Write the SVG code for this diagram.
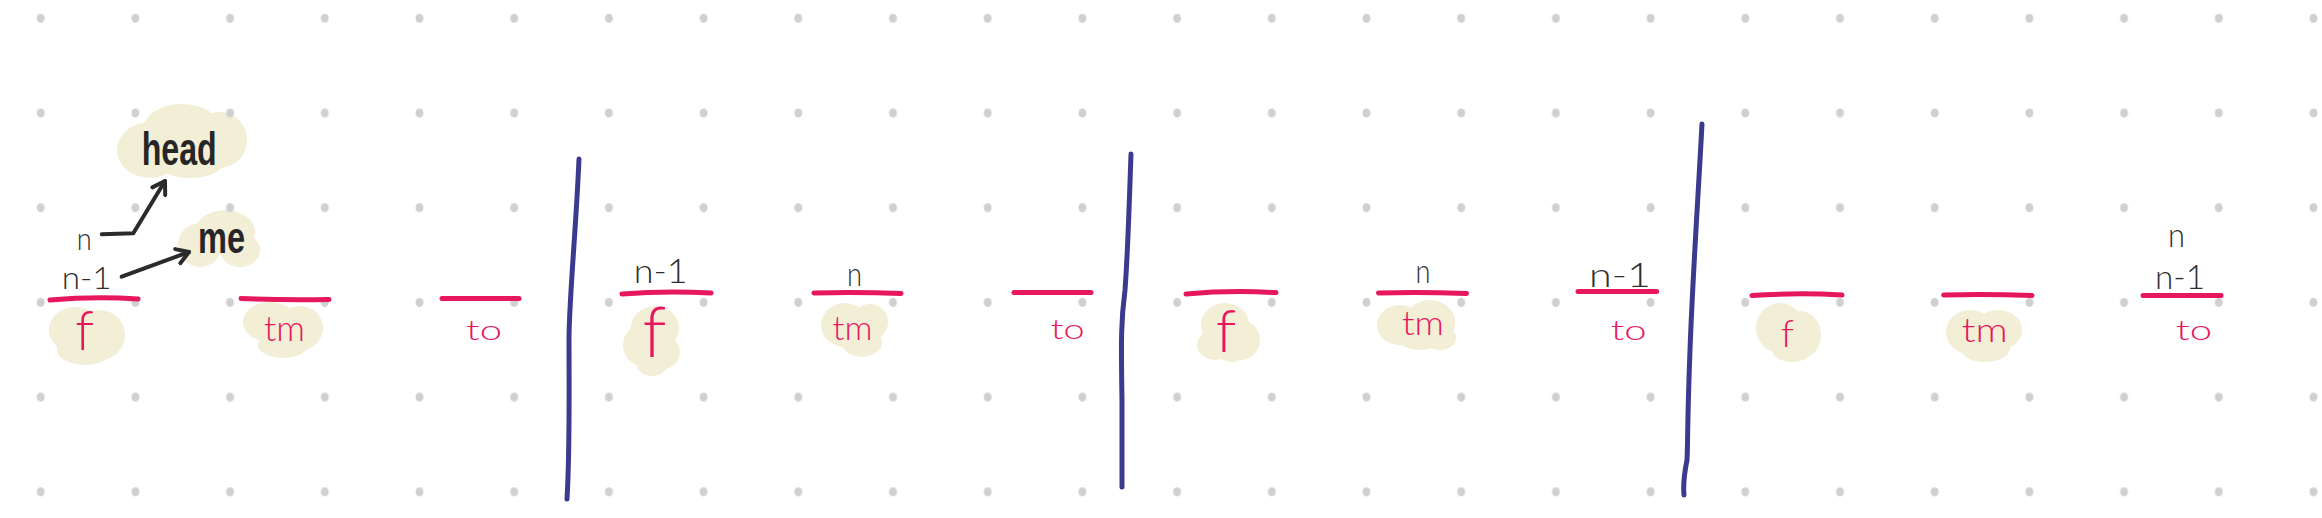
<svg xmlns="http://www.w3.org/2000/svg" width="2322" height="518" viewBox="0 0 2322 518">
<defs>
<pattern id="grid" x="-6.65" y="-29.05" width="94.7" height="94.7" patternUnits="userSpaceOnUse">
<ellipse cx="47.35" cy="47.35" rx="4" ry="4.6" fill="#d0d0d0"/>
</pattern>
<marker id="chev" viewBox="-14 -10 18 20" markerWidth="18" markerHeight="20" refX="0" refY="0" orient="auto" markerUnits="userSpaceOnUse">
<path d="M-12,-7.5 L0,0 L-12,7.5" fill="none" stroke="#2b2b2b" stroke-width="4" stroke-linecap="round" stroke-linejoin="round"/>
</marker>
<style>
.blob ellipse{fill:#f3eed6}
.red{fill:none;stroke:#e6175c;stroke-width:5;stroke-linecap:round}
.blue{fill:none;stroke:#3a3b8e;stroke-width:5;stroke-linecap:round}
.lbl{font-family:Lato,"Liberation Sans",Arial,sans-serif;font-weight:300;fill:#2e2e2e}
.big{font-family:"Liberation Sans",Arial,sans-serif;fill:#262626;font-weight:bold}
.rt{font-family:Lato,"Liberation Sans",Arial,sans-serif;font-weight:300;fill:#e6175c}
.conn{fill:none;stroke:#2b2b2b;stroke-width:4;stroke-linecap:round;stroke-linejoin:round}
</style>
</defs>
<rect width="2322" height="518" fill="#ffffff"/>
<g id="blobs">
<g class="blob" id="blob-head"><ellipse cx="150" cy="150" rx="33" ry="28"/><ellipse cx="182" cy="128" rx="38" ry="24"/><ellipse cx="220" cy="140" rx="27" ry="28"/><ellipse cx="190" cy="160" rx="35" ry="18"/></g>
<g class="blob" id="blob-me"><ellipse cx="200" cy="245" rx="22" ry="22"/><ellipse cx="225" cy="232" rx="30" ry="22"/><ellipse cx="240" cy="250" rx="20" ry="17"/></g>
<g class="blob"><ellipse cx="75" cy="330" rx="26" ry="23"/><ellipse cx="100" cy="335" rx="25" ry="25"/><ellipse cx="85" cy="350" rx="28" ry="15"/></g>
<g class="blob"><ellipse cx="270" cy="322" rx="27" ry="20"/><ellipse cx="300" cy="328" rx="23" ry="22"/><ellipse cx="283" cy="345" rx="25" ry="13"/></g>
<g class="blob"><ellipse cx="655" cy="328" rx="24" ry="22"/><ellipse cx="645" cy="345" rx="22" ry="22"/><ellipse cx="660" cy="352" rx="20" ry="18"/><ellipse cx="652" cy="365" rx="15" ry="11"/></g>
<g class="blob"><ellipse cx="845" cy="325" rx="24" ry="22"/><ellipse cx="870" cy="322" rx="18" ry="18"/><ellipse cx="862" cy="342" rx="20" ry="15"/></g>
<g class="blob"><ellipse cx="1225" cy="325" rx="24" ry="22"/><ellipse cx="1240" cy="340" rx="20" ry="20"/><ellipse cx="1215" cy="345" rx="18" ry="15"/><ellipse cx="1232" cy="352" rx="14" ry="10"/></g>
<g class="blob"><ellipse cx="1400" cy="325" rx="23" ry="20"/><ellipse cx="1430" cy="322" rx="25" ry="22"/><ellipse cx="1440" cy="338" rx="16" ry="12"/><ellipse cx="1420" cy="338" rx="22" ry="12"/></g>
<g class="blob"><ellipse cx="1780" cy="328" rx="24" ry="25"/><ellipse cx="1800" cy="335" rx="21" ry="24"/><ellipse cx="1792" cy="350" rx="20" ry="12"/></g>
<g class="blob"><ellipse cx="1970" cy="332" rx="24" ry="22"/><ellipse cx="1998" cy="330" rx="24" ry="20"/><ellipse cx="1985" cy="348" rx="25" ry="14"/></g>
</g>
<rect width="2322" height="518" fill="url(#grid)"/>
<g id="dividers">
<path class="blue" d="M579,159 C576,230 569,300 569,340 S570,450 567,499"/>
<path class="blue" d="M1131,154 C1129,210 1128,250 1125,290 C1121,320 1121,340 1122,400 L1122,487"/>
<path class="blue" d="M1702,124 C1698,200 1693,270 1690,350 S1688,440 1687,460 C1684,475 1683,485 1684,495"/>
</g>
<g id="node-head"><text class="big" x="141.7" y="165" font-size="46" textLength="75" lengthAdjust="spacingAndGlyphs">head</text></g>
<g id="node-me"><text class="big" x="198" y="253" font-size="44" textLength="47" lengthAdjust="spacingAndGlyphs">me</text></g>
<g id="connectors">
<path class="conn" d="M101.7,234.3 L133.3,233.3 L165,181" marker-end="url(#chev)"/>
<path class="conn" d="M121.7,276.7 L189,252" marker-end="url(#chev)"/>
</g>
<g id="s1">
<text class="lbl" x="76.7" y="250" font-size="32" textLength="15" lengthAdjust="spacingAndGlyphs">n</text>
<text class="lbl" x="61.7" y="289" font-size="32" textLength="50" lengthAdjust="spacingAndGlyphs">n-1</text>
<g id="s1-f"><path class="red" d="M50,300 Q95,296 138,299"/><text class="rt" x="84.5" y="350" font-size="55" text-anchor="middle">f</text></g>
<g id="s1-tm"><path class="red" d="M241,298.5 Q285,300.5 329,299.5"/><text class="rt" x="264" y="341" font-size="36" textLength="41" lengthAdjust="spacingAndGlyphs">tm</text></g>
<g id="s1-to"><path class="red" d="M442,298.5 L519,298.5"/><text class="rt" x="466" y="340" font-size="28" textLength="36" lengthAdjust="spacingAndGlyphs">to</text></g>
</g>
<g id="s2">
<text class="lbl" x="633.7" y="283" font-size="34" textLength="54" lengthAdjust="spacingAndGlyphs">n-1</text>
<text class="lbl" x="847" y="286" font-size="34" textLength="15" lengthAdjust="spacingAndGlyphs">n</text>
<g id="s2-f"><path class="red" d="M622,294 Q665,290.5 711,293"/><text class="rt" x="654.5" y="357" font-size="70" text-anchor="middle">f</text></g>
<g id="s2-tm"><path class="red" d="M814,293 Q858,292 901,293.5"/><text class="rt" x="832.6" y="340" font-size="34" textLength="40" lengthAdjust="spacingAndGlyphs">tm</text></g>
<g id="s2-to"><path class="red" d="M1014,292.6 L1091,292.6"/><text class="rt" x="1050.7" y="338.6" font-size="28" textLength="34" lengthAdjust="spacingAndGlyphs">to</text></g>
</g>
<g id="s3">
<text class="lbl" x="1415.6" y="283" font-size="34" textLength="15" lengthAdjust="spacingAndGlyphs">n</text>
<text class="lbl" x="1589" y="286.6" font-size="34" textLength="62" lengthAdjust="spacingAndGlyphs">n-1</text>
<g id="s3-f"><path class="red" d="M1186,294 Q1230,290 1276,292.6"/><text class="rt" x="1226" y="352" font-size="60" text-anchor="middle">f</text></g>
<g id="s3-tm"><path class="red" d="M1378.5,293 Q1422,292 1466.5,293.5"/><text class="rt" x="1402" y="335" font-size="34" textLength="42" lengthAdjust="spacingAndGlyphs">tm</text></g>
<g id="s3-to"><path class="red" d="M1578,291.6 L1656.6,291.6"/><text class="rt" x="1610.7" y="340" font-size="28" textLength="36" lengthAdjust="spacingAndGlyphs">to</text></g>
</g>
<g id="s4">
<text class="lbl" x="2168" y="247" font-size="34" textLength="17" lengthAdjust="spacingAndGlyphs">n</text>
<text class="lbl" x="2155" y="289" font-size="34" textLength="50" lengthAdjust="spacingAndGlyphs">n-1</text>
<g id="s4-f"><path class="red" d="M1752,295.5 Q1797,292.5 1842,295"/><text class="rt" x="1787.5" y="347" font-size="38" text-anchor="middle">f</text></g>
<g id="s4-tm"><path class="red" d="M1943.6,295 Q1988,294 2032,295.5"/><text class="rt" x="1961.8" y="341.7" font-size="34" textLength="46" lengthAdjust="spacingAndGlyphs">tm</text></g>
<g id="s4-to"><path class="red" d="M2143,295.5 L2221,295.5"/><text class="rt" x="2176" y="340" font-size="28" textLength="36" lengthAdjust="spacingAndGlyphs">to</text></g>
</g>
</svg>
